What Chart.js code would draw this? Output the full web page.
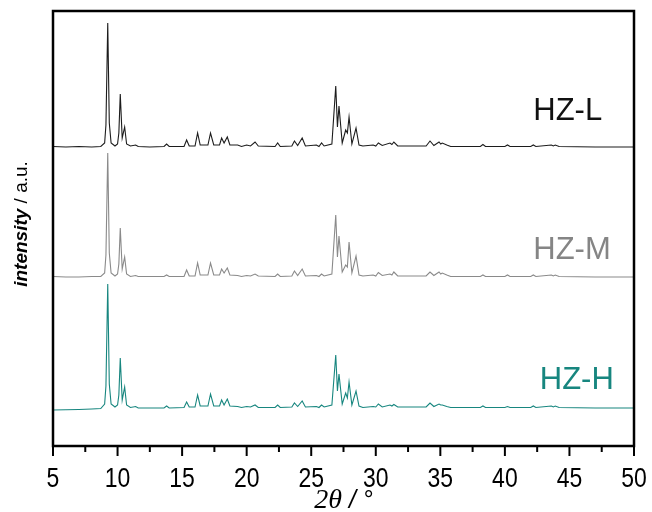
<!DOCTYPE html>
<html>
<head>
<meta charset="utf-8">
<script src="https://cdn.jsdelivr.net/npm/chart.js@4/dist/chart.umd.min.js"></script>
<style>
html, body { margin: 0; padding: 0; background: #fff; }
</style>
</head>
<body>
<canvas id="xrd" width="652" height="512"></canvas>
<script>
// 2theta positions of the polyline vertices (deg)
var twoTheta = [
  5.0, 6.0, 7.0, 8.0, 8.7, 9.0, 9.1, 9.24, 9.36, 9.5,
  9.8, 10.0, 10.1, 10.21, 10.36, 10.55, 10.7, 11.0, 11.4, 11.6,
  12.5, 13.6, 13.8, 14.0, 15.15, 15.35, 15.55, 16.0, 16.2, 16.4,
  17.0, 17.2, 17.45, 17.9, 18.06, 18.25, 18.5, 18.7, 19.3, 19.6,
  20.0, 20.3, 20.65, 20.9, 22.2, 22.4, 22.6, 23.5, 23.7, 23.95,
  24.3, 24.55, 25.4, 25.6, 25.8, 26.0, 26.6, 26.9, 27.03, 27.15,
  27.4, 27.67, 27.8, 27.93, 28.15, 28.47, 28.7, 29.0, 29.8, 30.0,
  30.2, 30.5, 31.1, 31.25, 31.4, 31.7, 33.9, 34.2, 34.5, 34.9,
  35.03, 35.15, 35.5, 35.8, 38.1, 38.3, 38.5, 40.0, 40.2, 40.4,
  42.0, 42.2, 42.4, 43.6, 43.75, 43.9, 44.2, 47.0, 50.0
];

// intensities above each pattern's own baseline (a.u.)
var hzL = [
  0.5, 0, 0.5, 0, 0.5, 4, 22, 124, 24, 4,
  1, 3, 14, 53, 9, 20, 3, 1, 2, 0.5,
  0, 0.5, 3, 0.5, 0.5, 7, 1, 1, 14, 2,
  2, 14, 2, 2, 9, 4, 10, 2, 2, 0.5,
  2, 1, 5, 1, 0.5, 4, 0.5, 1, 6, 1.5,
  9, 1, 2, 0.5, 4, 1, 3, 61, 20, 41,
  4, 17, 14, 30, 3, 19, 2, 1, 2, 1,
  4, 1.5, 4, 2.5, 5, 1, 1, 6, 1.5, 5,
  3, 4, 2, 0.5, 0.5, 2.5, 0.5, 0.5, 2, 0.5,
  0.5, 2, 0.5, 2, 1, 2, 0.5, 0, 0
];
var hzM = [
  0.5, 0, 0, 0.5, 0.5, 4, 22, 124, 24, 4,
  1, 3, 13, 49, 8, 20, 3, 0.5, 1.5, 0.5,
  0.5, 0.5, 2, 0.5, 0.5, 7, 1, 1, 14, 2,
  2, 14, 2, 2, 8, 4, 9, 2, 1.5, 0.5,
  1.5, 1, 3, 1, 0.5, 3, 0.5, 1, 6, 1.5,
  8, 1, 1.5, 0.5, 3, 1, 3, 62, 20, 41,
  5, 12, 10, 35, 4, 21, 2, 1, 2, 1,
  4.5, 1.5, 3, 2, 5, 1, 1, 5, 1.5, 5,
  3, 4, 2, 0.5, 0.5, 2, 0.5, 0.5, 2, 0.5,
  0.5, 2, 0.5, 2, 1, 2, 0.5, 0, 0
];
var hzH = [
  -2, -1.8, -1.5, -1, -0.5, 4, 22, 124, 24, 4,
  1, 3, 13, 50, 8, 21, 3, 0.5, 1.5, 0,
  0, 0, 2, 0, 0.5, 6, 1, 1, 13, 2,
  2, 14, 2, 2, 8, 3, 9, 2, 1.5, 0.5,
  1.5, 1, 3, 0.5, 0.5, 3, 0.5, 1, 5, 1.5,
  7, 1, 1.5, 0.5, 3, 1, 3, 53, 17, 34,
  4, 15, 10, 26, 3, 17, 2, 0.5, 1.5, 1,
  4, 1, 3, 2, 3.5, 1, 1, 5, 1.5, 4,
  3, 3, 1.5, 0.5, 0.5, 2, 0.5, 0.5, 1.5, 0.5,
  0.5, 2, 0.5, 2, 1, 2, 0.5, 0, 0
];

var sampleNames = ['HZ-L', 'HZ-M', 'HZ-H'];
var stackOffsets = [299, 169, 38];   // vertical shift of each pattern
var majorTicks = [5, 10, 15, 20, 25, 30, 35, 40, 45, 50];

var lineColors = ['#1c1c1c', '#8a8a8a', '#17867f'];
var nameColors = ['#111111', '#858585', '#17867f'];
// where the sample names sit: 2theta of left edge, height above baseline
var namePos = [[42.2, 36], [42.2, 27], [42.7, 28]];

var patterns = [hzL, hzM, hzH];

function stacked(vals, off) {
  return twoTheta.map(function(t, i) {
    return { x: t, y: off + vals[i] };
  });
}

var datasets = patterns.map(function(vals, k) {
  return {
    label: sampleNames[k],
    data: stacked(vals, stackOffsets[k]),
    borderColor: lineColors[k],
    borderWidth: 1.1,
    pointRadius: 0,
    tension: 0,
    fill: false
  };
});

// frame, tick marks + labels, axis titles and sample names
var decorations = {
  id: 'decorations',
  afterDraw: function(chart) {
    var ctx = chart.ctx;
    var a = chart.chartArea;
    var xs = chart.scales.x;
    var ys = chart.scales.y;
    ctx.save();

    ctx.strokeStyle = '#000';
    ctx.lineWidth = 2.5;
    ctx.strokeRect(a.left, a.top, a.right - a.left, a.bottom - a.top);

    ctx.lineWidth = 2;
    ctx.fillStyle = '#000';
    ctx.font = '28px "Liberation Sans", Arial, sans-serif';
    ctx.textAlign = 'center';
    ctx.textBaseline = 'middle';
    xs.ticks.forEach(function(t) {
      var px = xs.getPixelForValue(t.value);
      var major = majorTicks.indexOf(t.value) >= 0;
      ctx.beginPath();
      ctx.moveTo(px, a.bottom);
      ctx.lineTo(px, a.bottom + (major ? 10 : 6));
      ctx.stroke();
      if (major) {
        // narrow digits, like Arial Narrow
        ctx.save();
        ctx.translate(px, 479);
        ctx.scale(0.82, 1);
        ctx.fillText(String(t.value), 0, 0);
        ctx.restore();
      }
    });

    // sample names
    ctx.font = '31px "Liberation Sans", Arial, sans-serif';
    ctx.textAlign = 'left';
    sampleNames.forEach(function(name, k) {
      ctx.fillStyle = nameColors[k];
      ctx.fillText(name, xs.getPixelForValue(namePos[k][0]),
        ys.getPixelForValue(stackOffsets[k] + namePos[k][1]));
    });

    // y title: "intensity / a.u."
    ctx.fillStyle = '#000';
    ctx.save();
    ctx.translate(22, 224);
    ctx.rotate(-Math.PI / 2);
    var f1 = 'italic bold 19px "Liberation Sans", Arial, sans-serif';
    var f2 = '19px "Liberation Sans", Arial, sans-serif';
    ctx.font = f1;
    var w1 = ctx.measureText('intensity').width;
    ctx.font = f2;
    var w2 = ctx.measureText(' / a.u.').width;
    var x0 = -(w1 + w2) / 2;
    ctx.font = f1;
    ctx.fillText('intensity', x0, 0);
    ctx.font = f2;
    ctx.fillText(' / a.u.', x0 + w1, 0);
    ctx.restore();

    // x title: "2θ / °"
    var g1 = 'italic 28px "Liberation Serif", "Times New Roman", serif';
    var g2 = 'italic 25px "Liberation Sans", Arial, sans-serif';
    ctx.font = g1;
    var v1 = ctx.measureText('2θ').width;
    ctx.font = g2;
    var v2 = ctx.measureText(' / °').width;
    var cx = (a.left + a.right) / 2 - (v1 + v2) / 2;
    ctx.textBaseline = 'alphabetic';
    ctx.font = g1;
    ctx.fillText('2θ', cx, 508);
    ctx.font = g2;
    ctx.fillText(' / °', cx + v1, 508);

    ctx.restore();
  }
};

var chart = new Chart(document.getElementById('xrd').getContext('2d'), {
  type: 'line',
  data: { datasets: datasets },
  options: {
    responsive: false,
    animation: false,
    layout: { padding: { left: 0, right: 18, top: 11, bottom: 0 } },
    plugins: {
      legend: { display: false },
      tooltip: { enabled: false }
    },
    scales: {
      x: {
        type: 'linear',
        min: 5,
        max: 50,
        border: { display: false },
        grid: { display: false },
        ticks: {
          display: false,
          stepSize: 2.5,
          autoSkip: false
        },
        afterFit: function(s) { s.height = 66; }
      },
      y: {
        min: 0,
        max: 435,
        border: { display: false },
        grid: { display: false },
        ticks: { display: false },
        afterFit: function(s) { s.width = 53; }
      }
    }
  },
  plugins: [decorations]
});
</script>
</body>
</html>
